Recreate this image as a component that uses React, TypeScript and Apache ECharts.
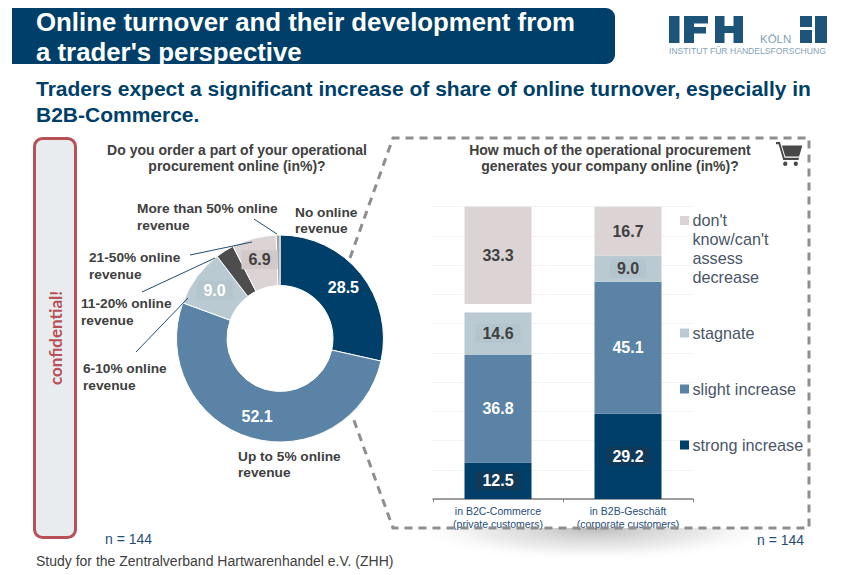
import React, { useEffect, useRef } from "react";
import * as echarts from "echarts";

const pieNames = ["No online revenue", "Up to 5% online revenue", "6-10% online revenue", "11-20% online revenue", "21-50% online revenue", "More than 50% online revenue"];
const pieValues = [28.5, 52.1, 9.0, 2.9, 6.9, 0.6];
const pieColors = ["#003f69", "#5a83a6", "#bacad2", "#4d4d4d", "#dcd3d5", "#a3a3a3"];
const categories = ["in B2C-Commerce\n(private customers)", "in B2B-Geschäft\n(corporate customers)"];
const strongIncrease = [12.5, 29.2];
const slightIncrease = [36.8, 45.1];
const stagnate = [14.6, 9.0];
const decrease = [2.8, 0];
const dontKnow = [33.3, 16.7];

const FONT = "'Liberation Sans', Arial, sans-serif";
const NAVY = "#003f69";
const TEXT = "#404040";
const LOGO = "#1d5479";
const LOGO_LIGHT = "#85a2b6";
const cart = "M0 0 L6 0 L13 22 L35 22 L34 25 L11 25 L4 3 L0 3 Z M9 5 L40 5 L35 20 L14 20 Z M14 27 a3.2 3.2 0 1 0 0.01 0 Z M30 27 a3.2 3.2 0 1 0 0.01 0 Z";
echarts.graphic.registerShape("cartIcon", echarts.graphic.extendPath(cart, {}));

const txt = (x: number, y: number, text: string, size: number, fill: string, extra: any = {}) => ({
  type: "text", x, y, z: 20,
  style: { text, fill, font: `${extra.weight || "normal"} ${size}px ${FONT}`, textAlign: extra.align || "left", textVerticalAlign: "middle", lineHeight: extra.lh },
});
const leader = (x1: number, y1: number, x2: number, y2: number) => ({
  type: "line", z: 20, shape: { x1, y1, x2, y2 }, style: { stroke: "#1f4e6e", lineWidth: 1 },
});
const swatch = (y: number, fill: string) => ({ type: "rect", z: 20, shape: { x: 680, y: y - 4.5, width: 9, height: 9 }, style: { fill } });
const block = (x: number, y: number, width: number, height: number) => ({ type: "rect", z: 20, shape: { x, y, width, height }, style: { fill: LOGO } });

const barLabel = (fill: string, bg?: string) => ({
  show: true, position: "inside", color: fill, fontFamily: FONT, fontWeight: "bold", fontSize: 16,
  formatter: (p: any) => (p.value ? p.value.toFixed(1) : ""),
  ...(bg ? { backgroundColor: bg, padding: [2, 7, 1, 7] } : {}),
});
const barBase = { type: "bar", stack: "s", barWidth: 67, xAxisIndex: 0, yAxisIndex: 0 };

export default function App() {
  const ref = useRef<HTMLDivElement>(null);
  useEffect(() => {
    const chart = echarts.init(ref.current!, undefined, { renderer: "svg" });
    const g: any[] = [
      // shadow below the dashed frame
      {
        type: "sector", x: 595, y: 528, scaleX: 5.6, z: -5, silent: true,
        shape: { cx: 0, cy: 0, r: 34, r0: 0, startAngle: 0, endAngle: Math.PI },
        style: { fill: new echarts.graphic.RadialGradient(0, 0, 34, [
          { offset: 0, color: "rgba(130,130,130,0.55)" },
          { offset: 0.6, color: "rgba(190,190,190,0.3)" },
          { offset: 1, color: "rgba(255,255,255,0)" },
        ], true) },
      },
      // header
      { type: "rect", z: 10, shape: { x: 12, y: 8, width: 603, height: 56, r: [0, 9, 9, 0] }, style: { fill: NAVY } },
      txt(36, 22, "Online turnover and their development from", 25.8, "#ffffff", { weight: "bold" }),
      txt(36, 52, "a trader's perspective", 25.8, "#ffffff", { weight: "bold" }),
      txt(36, 88, "Traders expect a significant increase of share of online turnover, especially in", 21, NAVY, { weight: "bold" }),
      txt(36, 114, "B2B-Commerce.", 21, NAVY, { weight: "bold" }),
      // logo
      block(669, 16, 10.5, 27),
      block(684, 16, 10, 27), block(684, 16, 24, 7.5), block(684, 27, 22, 6.5),
      block(715, 16, 9.5, 27), block(733.5, 16, 9.5, 27), block(715, 26, 28, 7),
      txt(760, 38.5, "KÖLN", 11.5, LOGO_LIGHT),
      block(800, 16, 12, 11), block(800, 30, 12, 13), block(815, 16, 12, 27),
      txt(669, 50.5, "INSTITUT FÜR HANDELSFORSCHUNG", 8.6, LOGO_LIGHT),
      // confidential box
      { type: "rect", z: 10, shape: { x: 34.5, y: 138.5, width: 41, height: 399, r: 8 }, style: { fill: "#e9ecef", stroke: "#b85057", lineWidth: 3 } },
      { type: "text", x: 55, y: 338, rotation: Math.PI / 2, z: 20, style: { text: "confidential!", fill: "#b85057", font: "bold 17px Lato, sans-serif", textAlign: "center", textVerticalAlign: "middle" } },
      // questions
      txt(237, 158, "Do you order a part of your operational\nprocurement online (in%)?", 14, TEXT, { weight: "bold", align: "center", lh: 16 }),
      txt(610, 158, "How much of the operational procurement\ngenerates your company online (in%)?", 14, TEXT, { weight: "bold", align: "center", lh: 16 }),
      // pie labels
      txt(137, 216.5, "More than 50% online\nrevenue", 13.7, TEXT, { weight: "bold", lh: 17 }),
      txt(295, 220, "No online\nrevenue", 13.7, TEXT, { weight: "bold", lh: 16 }),
      txt(89, 265.5, "21-50% online\nrevenue", 13.7, TEXT, { weight: "bold", lh: 17 }),
      txt(81, 311.5, "11-20% online\nrevenue", 13.7, TEXT, { weight: "bold", lh: 17 }),
      txt(83, 376.5, "6-10% online\nrevenue", 13.7, TEXT, { weight: "bold", lh: 17 }),
      txt(238, 464, "Up to 5% online\nrevenue", 13.7, TEXT, { weight: "bold", lh: 16 }),
      leader(254, 219, 277, 234),
      leader(190, 255, 252, 242),
      leader(142, 292, 215, 258),
      leader(136, 352, 188, 298),
      // dashed frame
      {
        type: "polyline", z: 15,
        shape: { points: [[350, 258], [393, 138], [809, 138], [809, 528], [393, 528], [352, 415]] },
        style: { stroke: "#8e8e8e", lineWidth: 3, fill: "none", lineDash: [8, 6] },
      },
      { type: "cartIcon", x: 776, y: 142, scaleX: 0.66, scaleY: 0.72, z: 20, style: { fill: "#484848" } },
      // legend
      swatch(220.5, pieColors[4]),
      txt(692.5, 248.5, "don't\nknow/can't\nassess\ndecrease", 16.2, "#4a5568", { lh: 18.8 }),
      swatch(333, pieColors[2]),
      txt(692.5, 333, "stagnate", 16.2, "#4a5568"),
      swatch(389, pieColors[1]),
      txt(692.5, 389, "slight increase", 16.2, "#4a5568"),
      swatch(445, pieColors[0]),
      txt(692.5, 445, "strong increase", 16.2, "#4a5568"),
      // notes
      txt(105, 539, "n = 144", 14, "#1f4e79"),
      txt(757, 540, "n = 144", 14, "#1f4e79"),
      txt(36, 561, "Study for the Zentralverband Hartwarenhandel e.V. (ZHH)", 14, TEXT),
    ];
    const pieLabel = (fill: string, bg?: string) => ({
      show: true, position: "inside", color: fill, fontFamily: FONT, fontWeight: "bold", fontSize: 16,
      formatter: (p: any) => p.value.toFixed(1),
      ...(bg ? { backgroundColor: bg, padding: [2, 7, 1, 7] } : {}),
    });
    const pieLabels = [pieLabel("#fff"), pieLabel("#fff"), pieLabel("#fff", "#b5c5cd"), { show: false }, pieLabel(TEXT, "#d3c9c9"), { show: false }];
    chart.setOption({
      animation: false,
      grid: { left: 433, top: 206.7, width: 260, height: 292.3 },
      xAxis: {
        type: "category", data: categories,
        axisLine: { lineStyle: { color: "#808080", width: 1.5 } },
        axisTick: { show: true, length: 3, lineStyle: { color: "#808080" } },
        axisLabel: { interval: 0, color: "#1f4e79", fontFamily: FONT, fontSize: 10.5, lineHeight: 13, margin: 5 },
      },
      yAxis: {
        type: "value", min: 0, max: 100, interval: 10,
        axisLine: { show: false }, axisTick: { show: false }, axisLabel: { show: false },
        splitLine: { lineStyle: { color: "#e4e9ec", type: "dotted", width: 1 } },
      },
      series: [
        { ...barBase, name: "strong increase", data: strongIncrease, itemStyle: { color: pieColors[0] }, label: barLabel("#fff", "#0f3a5a") },
        { ...barBase, name: "slight increase", data: slightIncrease, itemStyle: { color: pieColors[1] }, label: barLabel("#fff") },
        { ...barBase, name: "stagnate", data: stagnate, itemStyle: { color: pieColors[2] }, label: barLabel(TEXT, "#b5c5cd") },
        { ...barBase, name: "decrease", data: decrease, itemStyle: { color: "#ffffff" } },
        { ...barBase, name: "don't know/can't assess", data: dontKnow, itemStyle: { color: pieColors[4] }, label: barLabel(TEXT) },
        {
          type: "pie", center: [280, 338.5], radius: [53, 103.5], startAngle: 90, clockwise: true,
          labelLine: { show: false },
          data: pieNames.map((name, i) => ({
            name, value: pieValues[i],
            itemStyle: { color: pieColors[i], borderColor: "#fff", borderWidth: 1 },
            label: pieLabels[i],
          })),
        },
      ],
      graphic: g,
    });
    return () => chart.dispose();
  }, []);
  return <div ref={ref} style={{ position: "absolute", left: 0, top: 0, width: 859, height: 575, background: "#fff" }} />;
}
